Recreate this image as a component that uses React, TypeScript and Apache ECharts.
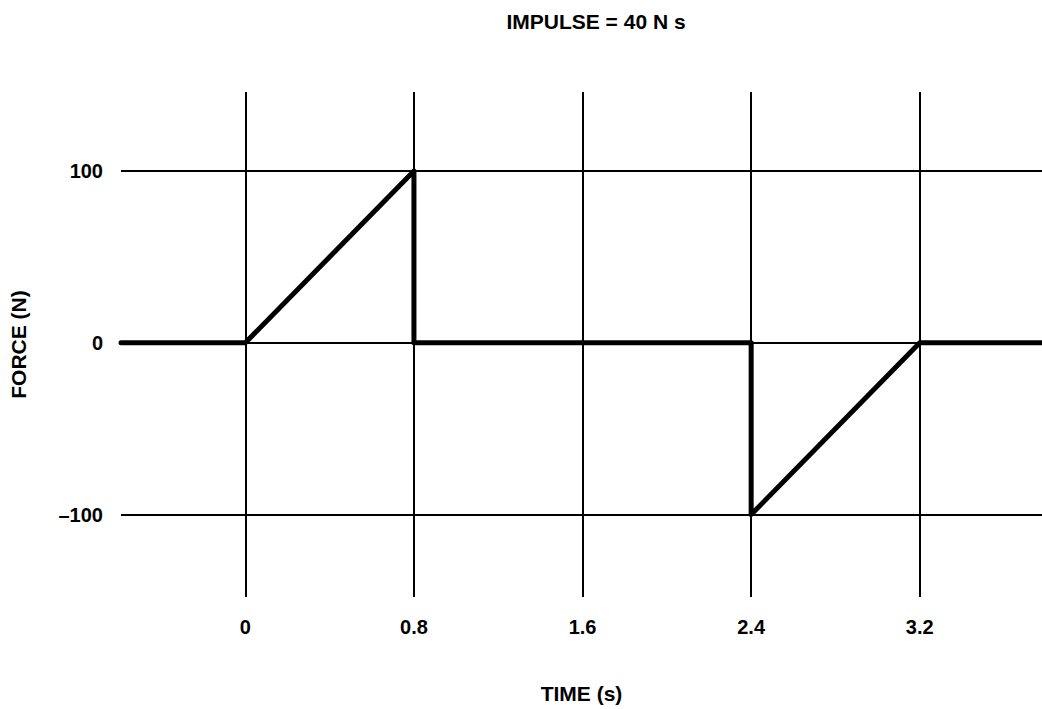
import React, { useEffect, useRef } from "react";
import * as echarts from "echarts";

const timeValues = [-0.59, 0, 0.8, 0.8, 2.4, 2.4, 3.2, 3.78];
const forceValues = [0, 0, 100, 0, 0, -100, 0, 0];
const timeTicks = [0, 0.8, 1.6, 2.4, 3.2];
const forceTicks = [-100, 0, 100];
const titleText = "IMPULSE = 40 N s";
const xName = "TIME (s)";
const yName = "FORCE (N)";

const FONT = "'Liberation Sans', Arial, sans-serif";

export default function App() {
  const ref = useRef<HTMLDivElement>(null);
  useEffect(() => {
    if (!ref.current) return;
    const chart = echarts.init(ref.current, undefined, { renderer: "svg" });
    const data = timeValues.map((t, i) => [t, forceValues[i]]);
    chart.setOption({
      animation: false,
      backgroundColor: "#ffffff",
      title: {
        text: titleText,
        left: 591,
        top: 6,
        textAlign: "center",
        textStyle: { fontFamily: FONT, fontWeight: "bold", fontSize: 21, color: "#000" },
      },
      grid: { left: 113, right: 0, top: 92, bottom: 102, containLabel: false },
      xAxis: {
        type: "value",
        min: -0.59,
        max: 3.78,
        name: xName,
        nameLocation: "middle",
        nameGap: 86,
        nameTextStyle: { fontFamily: FONT, fontWeight: "bold", fontSize: 21, color: "#000" },
        axisLine: { show: false },
        axisTick: { show: false },
        splitLine: { show: false },
        axisLabel: {
          customValues: timeTicks,
          margin: 20,
          fontFamily: FONT,
          fontWeight: "bold",
          fontSize: 20,
          color: "#000",
          formatter: (v: number) => String(Math.round(v * 10) / 10),
        },
      },
      yAxis: {
        type: "value",
        min: -148,
        max: 146,
        name: yName,
        nameLocation: "middle",
        nameRotate: 90,
        nameGap: 92,
        nameTextStyle: { fontFamily: FONT, fontWeight: "bold", fontSize: 21, color: "#000" },
        axisLine: { show: false },
        axisTick: { show: false },
        splitLine: { show: false },
        axisLabel: {
          customValues: forceTicks,
          margin: 18,
          fontFamily: FONT,
          fontWeight: "bold",
          fontSize: 20,
          color: "#000",
          formatter: (v: number) => (v < 0 ? "\u2013" + Math.abs(v) : String(v)),
        },
      },
      series: [
        {
          type: "line",
          data: [],
          z: 1,
          silent: true,
          markLine: {
            silent: true,
            symbol: ["none", "none"],
            label: { show: false },
            lineStyle: { color: "#000", width: 2, type: "solid" },
            data: [
              ...timeTicks.map((t) => ({ xAxis: t })),
              ...forceTicks.map((f) => ({ yAxis: f })),
            ],
          },
        },
        {
          type: "line",
          data,
          z: 3,
          symbol: "none",
          lineStyle: { color: "#000", width: 5, join: "round", cap: "round" },
        },
      ],
    });
    return () => chart.dispose();
  }, []);
  return (
    <div
      ref={ref}
      style={{ position: "absolute", left: 0, top: 0, width: 1042, height: 709 }}
    />
  );
}
